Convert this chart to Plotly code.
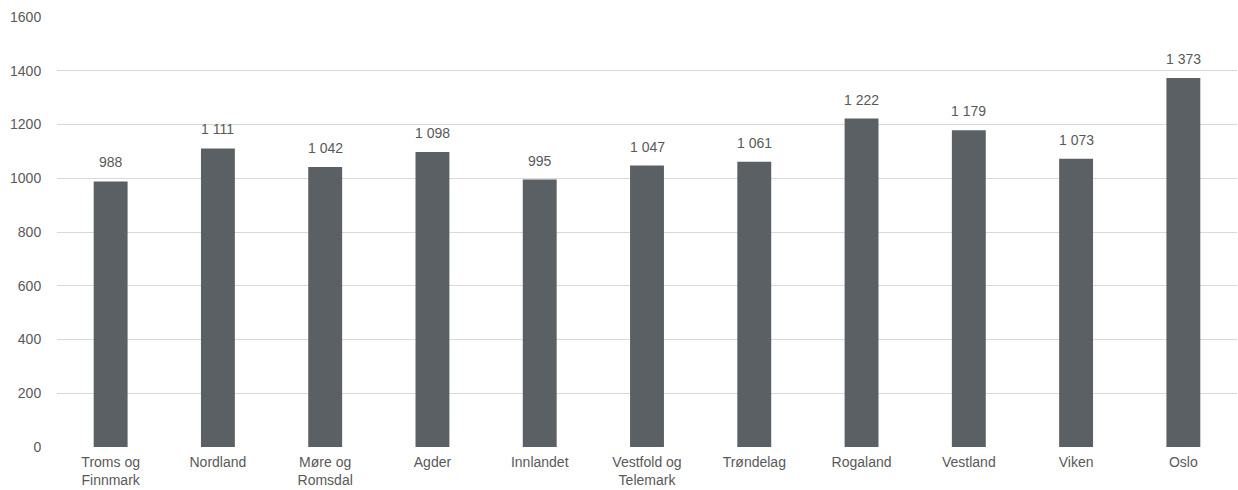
import plotly.graph_objects as go

categories = ["Troms og<br>Finnmark", "Nordland", "Møre og<br>Romsdal", "Agder", "Innlandet",
              "Vestfold og<br>Telemark", "Trøndelag", "Rogaland", "Vestland", "Viken", "Oslo"]
values = [988, 1111, 1042, 1098, 995, 1047, 1061, 1222, 1179, 1073, 1373]
y_ticks = [0, 200, 400, 600, 800, 1000, 1200, 1400, 1600]

labels = [f"{v:,}".replace(",", " ") for v in values]

FONT = "Liberation Sans, Arial"
GREY = "#595959"

fig = go.Figure(go.Bar(
    x=categories, y=values,
    marker=dict(color="#5B6064", line=dict(width=0)),
    cliponaxis=False,
))
for c, v, t in zip(categories, values, labels):
    fig.add_annotation(x=c, y=v, text=t, showarrow=False, yanchor="bottom", yshift=9,
                       font=dict(family=FONT, size=14, color=GREY))
fig.update_layout(
    width=1238, height=490,
    margin=dict(l=57, r=1, t=17, b=43),
    paper_bgcolor="white", plot_bgcolor="white",
    bargap=0.684,
    showlegend=False,
    font=dict(family=FONT, size=14, color=GREY),
    xaxis=dict(tickfont=dict(size=14, color=GREY), showgrid=False, zeroline=False, showline=False,
               ticks="outside", ticklen=2, tickcolor="rgba(0,0,0,0)"),
    yaxis=dict(range=[0, 1600], tickvals=y_ticks, showgrid=True, gridcolor="#D9D9D9", gridwidth=1.3,
               zeroline=False, showline=False, ticks="outside", ticklen=12, tickcolor="rgba(0,0,0,0)",
               tickfont=dict(size=14, color=GREY)),
)
fig.write_html("out.html")
